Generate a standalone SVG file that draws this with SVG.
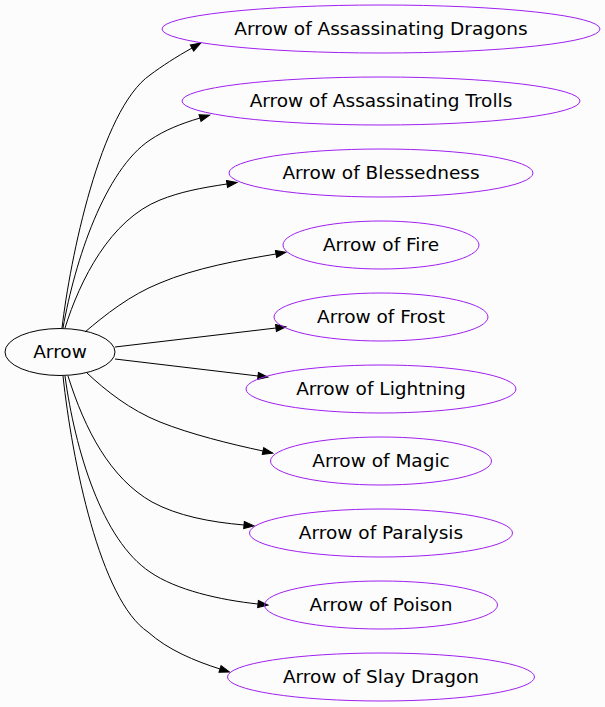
<svg xmlns="http://www.w3.org/2000/svg" width="605" height="707" viewBox="0 0 605 707">
<style>
  .n ellipse { fill: none; stroke: #a020f0; stroke-width: 1; }
  .root ellipse { fill: none; stroke: #000; stroke-width: 1; }
  text { font-family: "DejaVu Sans", sans-serif; font-size: 18.5px; text-anchor: middle; fill: #000; }
  .edges path { fill: none; stroke: #000; stroke-width: 1; marker-end: url(#ah); }
</style>
<defs>
  <marker id="ah" markerUnits="userSpaceOnUse" markerWidth="11" markerHeight="8" refX="0" refY="3.5" orient="auto" overflow="visible">
    <path d="M0,0 L10,3.5 L0,7 Z" fill="#000" stroke="#000" stroke-width="1"/>
  </marker>
</defs>
<rect width="605" height="707" fill="#fcfcfc"/>
<g class="edges">
  <path d="M62,328 C70,260 100,110 150,75 C162,66 176,57 192,48"/>
  <path d="M63,328 C75,260 105,170 150,140 C165,130 180,124 200,118"/>
  <path d="M65,328 C80,280 110,220 160,200 C180,192 200,188 227,184"/>
  <path d="M85,332 C105,315 130,295 160,283 C195,268 240,260 276,254"/>
  <path d="M115,347 L276,328"/>
  <path d="M115,359 L258,376"/>
  <path d="M87,373 C105,390 130,410 160,422 C190,434 230,444 263,451"/>
  <path d="M68,376 C85,430 110,478 152,502 C178,516 210,522 244,525"/>
  <path d="M65,376 C75,450 102,540 150,572 C176,590 220,600 258,604"/>
  <path d="M63,376 C72,460 100,600 148,632 C168,650 195,661 220,669"/>
</g>
<g id="arrow" class="root"><ellipse cx="60" cy="352" rx="55" ry="23.5"/><text x="60" y="358">Arrow</text></g>
<g id="dragons" class="n"><ellipse cx="381" cy="29" rx="219" ry="24"/><text x="381" y="35">Arrow of Assassinating Dragons</text></g>
<g id="trolls" class="n"><ellipse cx="381" cy="101" rx="199" ry="24"/><text x="381" y="107">Arrow of Assassinating Trolls</text></g>
<g id="blessedness" class="n"><ellipse cx="381" cy="173" rx="152" ry="24"/><text x="381" y="179">Arrow of Blessedness</text></g>
<g id="fire" class="n"><ellipse cx="381" cy="245" rx="98" ry="24"/><text x="381" y="251">Arrow of Fire</text></g>
<g id="frost" class="n"><ellipse cx="381" cy="317" rx="107" ry="24"/><text x="381" y="323">Arrow of Frost</text></g>
<g id="lightning" class="n"><ellipse cx="381" cy="389" rx="135" ry="24"/><text x="381" y="395">Arrow of Lightning</text></g>
<g id="magic" class="n"><ellipse cx="381" cy="461" rx="110.5" ry="24"/><text x="381" y="467">Arrow of Magic</text></g>
<g id="paralysis" class="n"><ellipse cx="381" cy="533" rx="131.5" ry="24"/><text x="381" y="539">Arrow of Paralysis</text></g>
<g id="poison" class="n"><ellipse cx="381" cy="605" rx="116.5" ry="24"/><text x="381" y="611">Arrow of Poison</text></g>
<g id="slay" class="n"><ellipse cx="381" cy="677" rx="153.5" ry="24"/><text x="381" y="683">Arrow of Slay Dragon</text></g>
</svg>
